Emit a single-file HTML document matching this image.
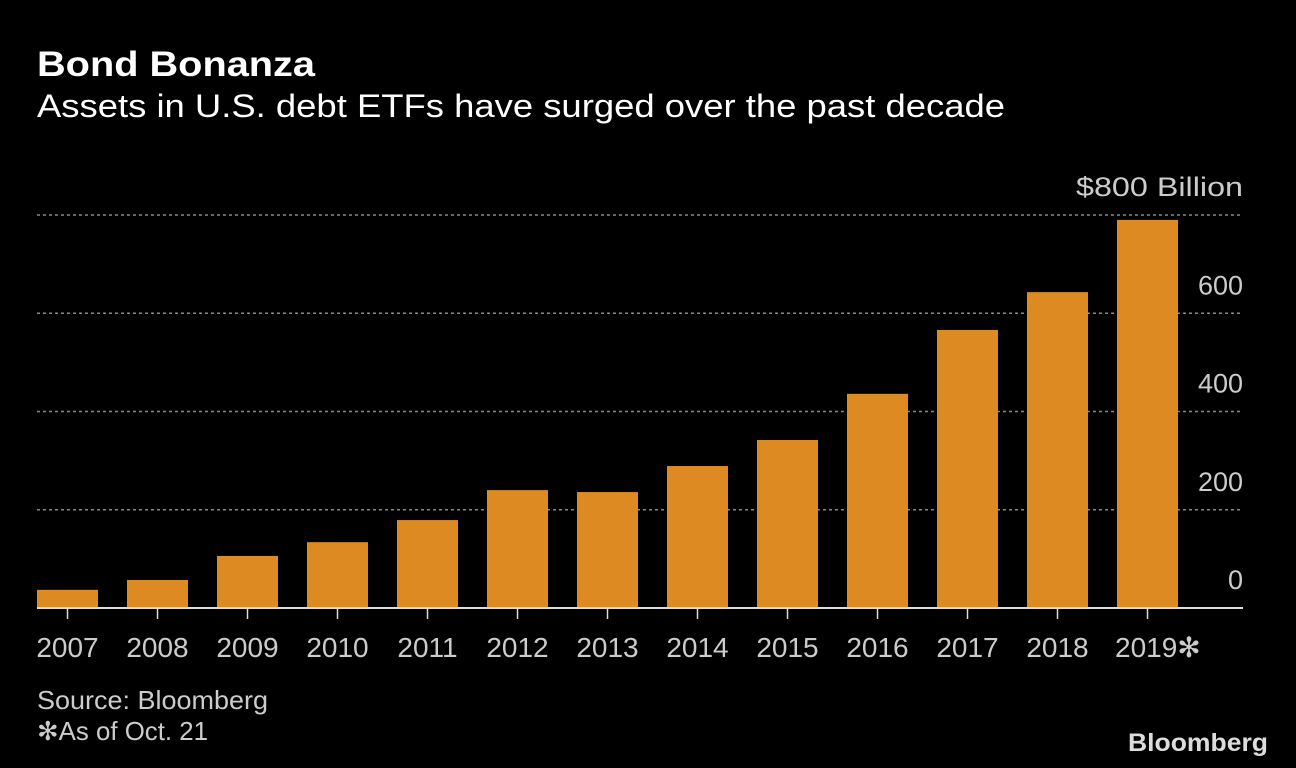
<!DOCTYPE html>
<html><head><meta charset="utf-8"><style>
html,body{margin:0;padding:0;background:#000;}
svg{display:block;font-family:"Liberation Sans","DejaVu Sans",sans-serif;}
</style></head><body>
<svg id="chart" width="1296" height="768" viewBox="0 0 1296 768">
<rect width="1296" height="768" fill="#000"/>
<text x="37" y="76" fill="#fff" font-size="35" font-weight="bold" textLength="278" lengthAdjust="spacingAndGlyphs">Bond Bonanza</text>
<text x="37" y="117" fill="#fff" font-size="32" textLength="968" lengthAdjust="spacingAndGlyphs">Assets in U.S. debt ETFs have surged over the past decade</text>
<g id="grid"></g>
<g id="bars"></g>
<g id="xaxis"></g>
<text x="37" y="709" fill="#ccc" font-size="26" textLength="231" lengthAdjust="spacingAndGlyphs">Source: Bloomberg</text>
<text x="37" y="740" fill="#ccc" font-size="26" textLength="171" lengthAdjust="spacingAndGlyphs">✻As of Oct. 21</text>
<text x="1268" y="751" fill="#ddd" font-size="25" font-weight="bold" text-anchor="end" textLength="140" lengthAdjust="spacingAndGlyphs">Bloomberg</text>
</svg>
<script>
const categories=["2007","2008","2009","2010","2011","2012","2013","2014","2015","2016","2017","2018","2019✻"];
const values=[37,57,106,134,179,240,236,289,342,436,566,643,790];
const yTicks=[0,200,400,600,800];
const yTickLabels=["0","200","400","600","$800 Billion"];
const NS="http://www.w3.org/2000/svg";
const y0=608, y1=215, yMax=800, left=37, right=1243, step=90, barW=61;
function yScale(v){return y0-(v/yMax)*(y0-y1);}
function xScale(i){return left+i*step;}
function mk(tag,attrs,parent){const e=document.createElementNS(NS,tag);for(const k in attrs)e.setAttribute(k,attrs[k]);parent.appendChild(e);return e;}
const grid=document.getElementById('grid'),bars=document.getElementById('bars'),xa=document.getElementById('xaxis');
yTicks.forEach((t,i)=>{
  const y=yScale(t);
  if(t>0){
    const l=mk('line',{x1:left,x2:right,y1:y,y2:y,stroke:'#888','stroke-width':1.5,'stroke-dasharray':'3,3'},grid);
    
    
  }
  const attrs={x:1243,y:y-19,fill:'#ccc','font-size':27,'text-anchor':'end'};
  if(t===800){attrs.textLength=167;attrs.lengthAdjust='spacingAndGlyphs';}
  const tx=mk('text',attrs,grid);
  tx.textContent=yTickLabels[i];
  
  
});
categories.forEach((c,i)=>{
  const x=xScale(i),y=yScale(values[i]);
  const r=mk('rect',{x:x,y:y,width:barW,height:y0-y,fill:'#dd8a22'},bars);
  
  
  const tk=mk('line',{x1:x+barW/2,x2:x+barW/2,y1:y0,y2:y0+11,stroke:'#ddd','stroke-width':1.5},xa);
  
  
  const t=mk('text',{x:x+(c.length>4?-2:barW/2),y:657,fill:'#ccc','font-size':28,'text-anchor':c.length>4?'start':'middle'},xa);
  t.textContent=c;
  
  
});
const ax=mk('line',{x1:left,x2:right,y1:y0,y2:y0,stroke:'#ddd','stroke-width':2},xa);


</script>
</body></html>
